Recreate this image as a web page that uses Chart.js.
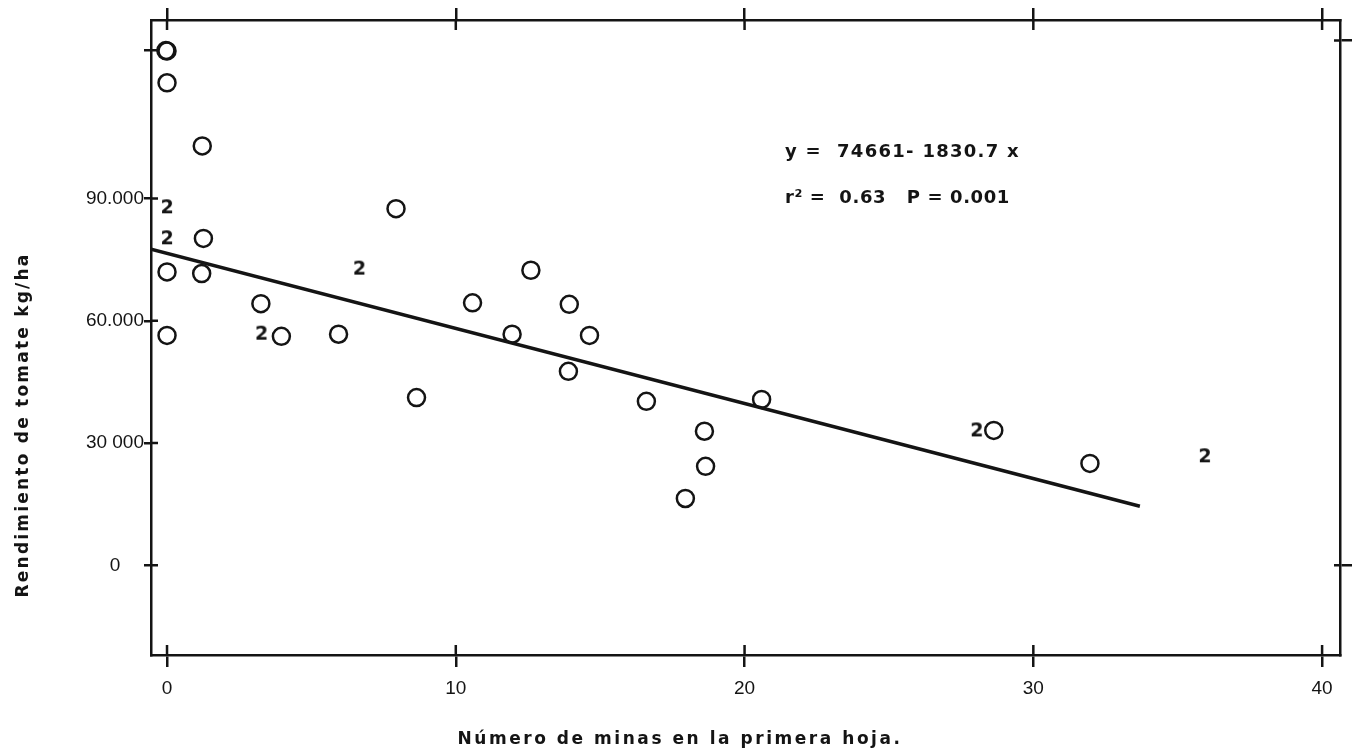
<!DOCTYPE html>
<html>
<head>
<meta charset="utf-8">
<script src="https://cdn.jsdelivr.net/npm/chart.js@4/dist/chart.umd.min.js"></script>
<style>
html, body { margin: 0; padding: 0; background: #fff; }
#wrap { width: 1352px; height: 756px; }
</style>
</head>
<body>
<div id="wrap"><canvas id="chart" width="1352" height="756"></canvas></div>
<script>
// valores
var circleX = [0, -0.04, 0, 1.22, 1.26, 7.93, 0, 1.2, 12.6, 3.25, 10.58, 11.95, 0, 3.96, 5.94, 8.64,
	13.93, 14.63, 13.9, 16.6, 20.59, 18.61, 18.65, 17.95, 28.63, 31.96];
var circleY = [126200, 126300, 118400, 102900, 80200, 87500, 72000, 71600, 72400, 64200, 64400, 56700, 56400, 56200, 56700, 41150,
	64050, 56400, 47600, 40250, 40700, 32900, 24300, 16400, 33100, 25000];

// "2" = dos observaciones en el mismo punto
var twoX = [0, 0, 6.66, 3.27, 28.04, 35.94];
var twoY = [87850, 80250, 72800, 56850, 33100, 26750];

// recta de regresion tal como esta dibujada
var lineX = [-0.555, 33.69];
var lineY = [77550, 14480];

var xTicks = [0, 10, 20, 30, 40];
var yTicks = [0, 30000, 60000, 90000, 126400];
var yTickLabels = ['0', '30 000', '60.000', '90.000', ''];
var yRightTicks = [0, 128800];

var eqText = 'y =  74661- 1830.7 x';
var statText = 'r\u00b2 =  0.63   P = 0.001';
var xTitle = 'N\u00famero de minas en la primera hoja.';
var yTitle = 'Rendimiento de tomate kg/ha';

var INK = '#141414';
var FONT = '"DejaVu Sans", sans-serif';
var TICKFONT = '"Liberation Sans", "DejaVu Sans", sans-serif';

function pts(xs, ys)
{
	return xs.map(function (x, i) { return {x: x, y: ys[i]}; });
}

// glyph "2" as point style
var twoMark = document.createElement('canvas');
twoMark.width = 22;
twoMark.height = 26;
(function ()
{
	var c = twoMark.getContext('2d');
	c.fillStyle = INK;
	c.font = 'bold 19px ' + FONT;
	c.textAlign = 'center';
	c.textBaseline = 'middle';
	c.fillText('2', 11, 14);
})();

function spaced(ctx, text, x, y, width)
{
	ctx.letterSpacing = '0px';
	var w = ctx.measureText(text).width;
	var ls = Math.max(0, (width - w) / text.length);
	ctx.letterSpacing = ls + 'px';
	ctx.fillText(text, x, y);
	ctx.letterSpacing = '0px';
}

var frame = {
	id: 'frame',
	afterDraw: function (chart)
	{
		var ctx = chart.ctx, a = chart.chartArea, s = chart.scales;
		ctx.save();
		ctx.strokeStyle = INK;
		ctx.lineWidth = 2.5;
		ctx.beginPath();
		xTicks.forEach(function (v)
		{
			var px = s.x.getPixelForValue(v);
			ctx.moveTo(px, a.bottom); ctx.lineTo(px, a.bottom - 10);
			ctx.moveTo(px, a.top); ctx.lineTo(px, a.top + 10);
		});
		yTicks.forEach(function (v)
		{
			var py = s.y.getPixelForValue(v);
			ctx.moveTo(a.left, py); ctx.lineTo(a.left + 7, py);
		});
		yRightTicks.forEach(function (v)
		{
			var py = s.y2.getPixelForValue(v);
			ctx.moveTo(a.right, py); ctx.lineTo(a.right - 6, py);
		});
		ctx.stroke();

		ctx.fillStyle = INK;
		ctx.textBaseline = 'middle';
		ctx.font = 'bold 18px ' + FONT;
		ctx.textAlign = 'left';
		spaced(ctx, eqText, 785, 152, 235);
		spaced(ctx, statText, 785, 198, 225);

		ctx.textAlign = 'center';
		ctx.font = 'bold 17px ' + FONT;
		spaced(ctx, xTitle, 680, 740, 445);

		ctx.translate(24, 425);
		ctx.rotate(-Math.PI / 2);
		spaced(ctx, yTitle, 0, 0, 345);
		ctx.restore();
	}
};

function axisGrid(len)
{
	return {drawOnChartArea: false, drawTicks: true, tickLength: len, color: INK, lineWidth: 2.5};
}

new Chart(document.getElementById('chart'), {
	type: 'scatter',
	data: {
		datasets: [
			{
				type: 'line',
				data: pts(lineX, lineY),
				borderColor: INK,
				borderWidth: 3.5,
				pointRadius: 0,
				fill: false
			},
			{
				data: pts(circleX, circleY),
				pointStyle: 'circle',
				pointRadius: 8.5,
				borderWidth: 2.5,
				borderColor: INK,
				backgroundColor: 'rgba(0,0,0,0)'
			},
			{
				data: pts(twoX, twoY),
				pointStyle: twoMark,
				pointRadius: 11
			}
		]
	},
	options: {
		responsive: false,
		animation: false,
		devicePixelRatio: 1,
		layout: {padding: 0},
		plugins: {legend: {display: false}, tooltip: {enabled: false}},
		scales: {
			x: {
				type: 'linear', position: 'bottom', min: -0.555, max: 40.62,
				afterBuildTicks: function (sc) { sc.ticks = xTicks.map(function (v) { return {value: v}; }); },
				afterFit: function (sc) { sc.height = 101; },
				ticks: {color: INK, font: {family: TICKFONT, size: 19}, padding: 10, maxRotation: 0, autoSkip: false},
				grid: axisGrid(12),
				border: {color: INK, width: 2.5}
			},
			x2: {
				type: 'linear', position: 'top', min: -0.555, max: 40.62,
				afterBuildTicks: function (sc) { sc.ticks = xTicks.map(function (v) { return {value: v}; }); },
				afterFit: function (sc) { sc.height = 20; },
				ticks: {callback: function () { return ''; }, padding: 0},
				grid: axisGrid(12),
				border: {color: INK, width: 2.5}
			},
			y: {
				type: 'linear', position: 'left', min: -22000, max: 133800,
				afterBuildTicks: function (sc) { sc.ticks = yTicks.map(function (v) { return {value: v}; }); },
				afterFit: function (sc) { sc.width = 151; },
				ticks: {
					color: INK, font: {family: TICKFONT, size: 19}, padding: 0, crossAlign: 'center', autoSkip: false,
					callback: function (v) { var i = yTicks.indexOf(v); return i < 0 ? '' : yTickLabels[i]; }
				},
				grid: axisGrid(7),
				border: {color: INK, width: 2.5}
			},
			y2: {
				type: 'linear', position: 'right', min: -22000, max: 133800,
				afterBuildTicks: function (sc) { sc.ticks = yRightTicks.map(function (v) { return {value: v}; }); },
				afterFit: function (sc) { sc.width = 12; },
				ticks: {callback: function () { return ''; }, padding: 0},
				grid: axisGrid(12),
				border: {color: INK, width: 2.5}
			}
		}
	},
	plugins: [frame]
});
</script>
</body>
</html>
